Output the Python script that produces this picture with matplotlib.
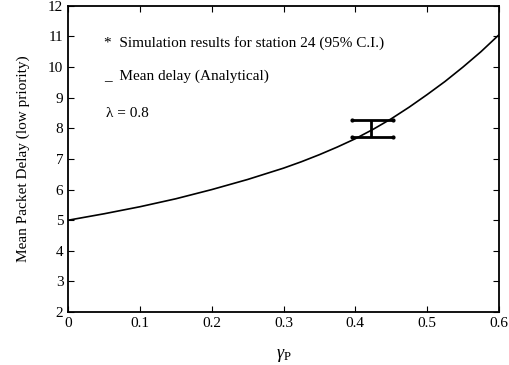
import numpy as np
from matplotlib import pyplot as plt

plt.rcParams['font.family'] = ['Liberation Serif', 'DejaVu Serif']
plt.rcParams['mathtext.fontset'] = 'custom'
plt.rcParams['mathtext.rm'] = 'Liberation Serif'
plt.rcParams['mathtext.it'] = 'Liberation Serif:italic'

# analytical curve
gamma_p = [0.0, 0.05, 0.1, 0.15, 0.2, 0.25, 0.3, 0.325, 0.35, 0.375, 0.4,
           0.425, 0.45, 0.475, 0.5, 0.525, 0.55, 0.575, 0.6]
delay = [5.0, 5.21, 5.44, 5.70, 6.00, 6.33, 6.70, 6.91, 7.14, 7.39, 7.66,
         7.97, 8.31, 8.69, 9.10, 9.53, 10.0, 10.50, 11.05]

# simulation result with 95% C.I.
sim_x = 0.422
sim_low = 7.72
sim_high = 8.27
cap_left = 0.395
cap_right = 0.452

fig = plt.figure(figsize=(5.09, 3.65), dpi=100)
ax = fig.add_axes([0.134, 0.145, 0.846, 0.839])

ax.plot(gamma_p, delay, color='black', lw=1.2)

ax.vlines(sim_x, sim_low, sim_high, color='black', lw=2)
ax.hlines([sim_low, sim_high], cap_left, cap_right, color='black', lw=2)
ax.plot([cap_left, cap_right, cap_left, cap_right],
        [sim_low, sim_low, sim_high, sim_high], 'k.', ms=4)

ax.text(0.05, 10.8, '*  Simulation results for station 24 (95% C.I.)',
        fontsize=11, va='center')
ax.text(0.05, 9.7, '_  Mean delay (Analytical)', fontsize=11, va='center')
ax.text(0.053, 8.5, 'λ = 0.8', fontsize=11, va='center')

ax.set_xlim(0, 0.6)
ax.set_ylim(2, 12)
ax.set_xticks([0, 0.1, 0.2, 0.3, 0.4, 0.5, 0.6])
ax.set_xticklabels(['0', '0.1', '0.2', '0.3', '0.4', '0.5', '0.6'])
ax.set_yticks(range(2, 13))
ax.tick_params(direction='in', top=True, right=True, length=4, labelsize=11)
for s in ax.spines.values():
    s.set_linewidth(1.3)

ax.set_xlabel(r'$\gamma_\mathrm{P}$', fontsize=13, labelpad=12)
ax.set_ylabel('Mean Packet Delay (low priority)', fontsize=11, labelpad=13)

fig.savefig('out.png', dpi=100)
